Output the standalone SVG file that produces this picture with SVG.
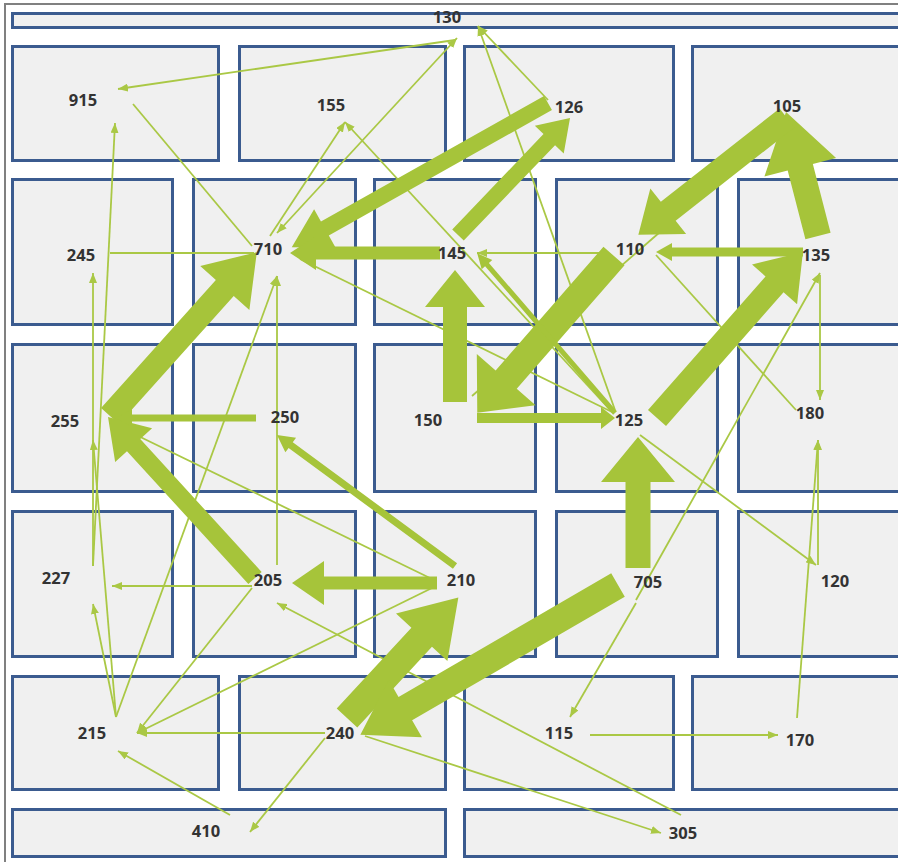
<svg xmlns="http://www.w3.org/2000/svg" width="898" height="862" viewBox="0 0 898 862">
<style>
.room{fill:#f0f0f0;stroke:#3b5b8f;stroke-width:3}
.thin{fill:none;stroke:#aac845;stroke-width:1.8}
.thick{fill:#a6c43a;stroke:none}
.lbl{font-family:"Open Sans","Liberation Sans",sans-serif;font-weight:bold;font-size:16.5px;fill:#333;text-anchor:middle}
</style>
<defs>
<marker id="ah" viewBox="0 0 10 8" markerWidth="10" markerHeight="8" refX="10" refY="4" orient="auto-start-reverse" markerUnits="userSpaceOnUse">
<path d="M0,0 L10,4 L0,8 Z" fill="#aac845"/>
</marker>
</defs>
<rect x="0" y="0" width="898" height="862" fill="#ffffff"/>
<rect x="5" y="4" width="910" height="880" fill="none" stroke="#808080" stroke-width="2"/>
<g id="rooms">
<rect class="room" x="12.5" y="13.5" width="900" height="14"/>
<rect class="room" x="12.5" y="46.5" width="206" height="114"/>
<rect class="room" x="239.5" y="46.5" width="206" height="114"/>
<rect class="room" x="464.5" y="46.5" width="209" height="114"/>
<rect class="room" x="692.5" y="46.5" width="220" height="114"/>
<rect class="room" x="12.5" y="179.5" width="160" height="145"/>
<rect class="room" x="193.5" y="179.5" width="162" height="145"/>
<rect class="room" x="374.5" y="179.5" width="161" height="145"/>
<rect class="room" x="556.5" y="179.5" width="161" height="145"/>
<rect class="room" x="738.5" y="179.5" width="180" height="145"/>
<rect class="room" x="12.5" y="344.5" width="160" height="147"/>
<rect class="room" x="193.5" y="344.5" width="162" height="147"/>
<rect class="room" x="374.5" y="344.5" width="161" height="147"/>
<rect class="room" x="556.5" y="344.5" width="161" height="147"/>
<rect class="room" x="738.5" y="344.5" width="180" height="147"/>
<rect class="room" x="12.5" y="511.5" width="160" height="145"/>
<rect class="room" x="193.5" y="511.5" width="162" height="145"/>
<rect class="room" x="374.5" y="511.5" width="161" height="145"/>
<rect class="room" x="556.5" y="511.5" width="161" height="145"/>
<rect class="room" x="738.5" y="511.5" width="180" height="145"/>
<rect class="room" x="12.5" y="676.5" width="206" height="113"/>
<rect class="room" x="239.5" y="676.5" width="206" height="113"/>
<rect class="room" x="464.5" y="676.5" width="209" height="113"/>
<rect class="room" x="692.5" y="676.5" width="220" height="113"/>
<rect class="room" x="12.5" y="809.5" width="433" height="47"/>
<rect class="room" x="464.5" y="809.5" width="450" height="47"/>
</g>
<g id="connectors">
<line class="thin" x1="455" y1="40" x2="118" y2="89" marker-end="url(#ah)"/>
<line class="thin" x1="277" y1="233" x2="457" y2="38" marker-start="url(#ah)" marker-end="url(#ah)"/>
<line class="thin" x1="548" y1="100" x2="478" y2="26" marker-end="url(#ah)"/>
<line class="thin" x1="615" y1="410" x2="478" y2="26" marker-end="url(#ah)"/>
<line class="thin" x1="133" y1="104" x2="252" y2="246"/>
<line class="thin" x1="110" y1="253" x2="254" y2="253"/>
<line class="thin" x1="93" y1="566" x2="93" y2="273" marker-end="url(#ah)"/>
<line class="thin" x1="93" y1="566" x2="115" y2="123" marker-end="url(#ah)"/>
<line class="thin" x1="116" y1="717" x2="93" y2="440" marker-end="url(#ah)"/>
<line class="thin" x1="116" y1="717" x2="93" y2="604" marker-end="url(#ah)"/>
<line class="thin" x1="116" y1="717" x2="277" y2="276" marker-end="url(#ah)"/>
<line class="thin" x1="277" y1="565" x2="277" y2="276" marker-end="url(#ah)"/>
<line class="thin" x1="252" y1="586" x2="112" y2="586" marker-end="url(#ah)"/>
<line class="thin" x1="252" y1="588" x2="137" y2="733" marker-end="url(#ah)"/>
<line class="thin" x1="432" y1="588" x2="137" y2="733" marker-end="url(#ah)"/>
<line class="thin" x1="432" y1="579" x2="128" y2="431"/>
<line class="thin" x1="325" y1="733" x2="137" y2="733" marker-end="url(#ah)"/>
<line class="thin" x1="325" y1="738" x2="250" y2="832" marker-end="url(#ah)"/>
<line class="thin" x1="230" y1="815" x2="118" y2="751" marker-end="url(#ah)"/>
<line class="thin" x1="365" y1="736" x2="661" y2="833" marker-end="url(#ah)"/>
<line class="thin" x1="681" y1="815" x2="277" y2="603" marker-end="url(#ah)"/>
<line class="thin" x1="270" y1="236" x2="345" y2="122" marker-end="url(#ah)"/>
<line class="thin" x1="612" y1="412" x2="345" y2="122" marker-end="url(#ah)"/>
<line class="thin" x1="300" y1="259" x2="612" y2="412"/>
<line class="thin" x1="607" y1="253" x2="477" y2="253" marker-end="url(#ah)"/>
<line class="thin" x1="472" y1="396" x2="660" y2="232"/>
<line class="thin" x1="796" y1="410" x2="656" y2="255"/>
<line class="thin" x1="820" y1="275" x2="820" y2="400" marker-end="url(#ah)"/>
<line class="thin" x1="636" y1="600" x2="820" y2="273" marker-end="url(#ah)"/>
<line class="thin" x1="636" y1="603" x2="570" y2="717" marker-end="url(#ah)"/>
<line class="thin" x1="590" y1="735" x2="778" y2="735" marker-end="url(#ah)"/>
<line class="thin" x1="797" y1="718" x2="818" y2="440" marker-end="url(#ah)"/>
<line class="thin" x1="818" y1="565" x2="818" y2="440" marker-end="url(#ah)"/>
<line class="thin" x1="640" y1="435" x2="816" y2="565" marker-end="url(#ah)"/>
<polygon class="thick" transform="translate(548,103) rotate(150.64)" points="0,-8 256,-8 256,-22 294,0 256,22 256,8 0,8"/>
<polygon class="thick" transform="translate(458,235) rotate(-46.25)" points="0,-8 132,-8 132,-20 162,0 132,20 132,8 0,8"/>
<polygon class="thick" transform="translate(440,253) rotate(180)" points="0,-6.5 124,-6.5 124,-17 150,0 124,17 124,6.5 0,6.5"/>
<polygon class="thick" transform="translate(110,416) rotate(-48.13)" points="0,-12 172,-12 172,-33 220,0 172,33 172,12 0,12"/>
<polygon class="thick" transform="translate(255,578) rotate(-132.4)" points="0,-9 180,-9 180,-25 218,0 180,25 180,9 0,9"/>
<polygon class="thick" transform="translate(256,418) rotate(180)" points="0,-3.5 124,-3.5 124,-9 140,0 124,9 124,3.5 0,3.5"/>
<polygon class="thick" transform="translate(455,566) rotate(-143.65)" points="0,-3.5 204,-3.5 204,-9 221,0 204,9 204,3.5 0,3.5"/>
<polygon class="thick" transform="translate(437,583) rotate(180)" points="0,-6.5 113,-6.5 113,-22 145,0 113,22 113,6.5 0,6.5"/>
<polygon class="thick" transform="translate(347,718) rotate(-47.23)" points="0,-14 110,-14 110,-35 164,0 110,35 110,14 0,14"/>
<polygon class="thick" transform="translate(618,585) rotate(149.83)" points="0,-13.5 246,-13.5 246,-33 298,0 246,33 246,13.5 0,13.5"/>
<polygon class="thick" transform="translate(638,568) rotate(-90)" points="0,-12.5 86,-12.5 86,-37 131,0 86,37 86,12.5 0,12.5"/>
<polygon class="thick" transform="translate(657,418) rotate(-48.67)" points="0,-12 178,-12 178,-30 221,0 178,30 178,12 0,12"/>
<polygon class="thick" transform="translate(803,252) rotate(180)" points="0,-4.5 131,-4.5 131,-9 147,0 131,9 131,4.5 0,4.5"/>
<polygon class="thick" transform="translate(818,236) rotate(-104.47)" points="0,-13 71,-13 71,-37 128,0 71,37 71,13 0,13"/>
<polygon class="thick" transform="translate(787,118) rotate(141.86)" points="0,-12 151,-12 151,-29 189,0 151,29 151,12 0,12"/>
<polygon class="thick" transform="translate(614,256) rotate(131.1)" points="0,-14 164,-14 164,-39 208,0 164,39 164,14 0,14"/>
<polygon class="thick" transform="translate(455,402) rotate(-90)" points="0,-12 95,-12 95,-30 132,0 95,30 95,12 0,12"/>
<polygon class="thick" transform="translate(477,418)" points="0,-5 124,-5 124,-11 138,0 124,11 124,5 0,5"/>
<polygon class="thick" transform="translate(615,413) rotate(-130.78)" points="0,-2.5 196,-2.5 196,-7 211,0 196,7 196,2.5 0,2.5"/>
</g>
<g id="n130"><text class="lbl" x="447" y="23">130</text></g>
<g id="n915"><text class="lbl" x="83" y="106">915</text></g>
<g id="n155"><text class="lbl" x="331" y="111">155</text></g>
<g id="n126"><text class="lbl" x="569" y="113">126</text></g>
<g id="n105"><text class="lbl" x="787" y="112">105</text></g>
<g id="n245"><text class="lbl" x="81" y="261">245</text></g>
<g id="n710"><text class="lbl" x="268" y="255">710</text></g>
<g id="n145"><text class="lbl" x="452" y="259">145</text></g>
<g id="n110"><text class="lbl" x="630" y="255">110</text></g>
<g id="n135"><text class="lbl" x="816" y="261">135</text></g>
<g id="n255"><text class="lbl" x="65" y="427">255</text></g>
<g id="n250"><text class="lbl" x="285" y="423">250</text></g>
<g id="n150"><text class="lbl" x="428" y="426">150</text></g>
<g id="n125"><text class="lbl" x="629" y="426">125</text></g>
<g id="n180"><text class="lbl" x="810" y="419">180</text></g>
<g id="n227"><text class="lbl" x="56" y="584">227</text></g>
<g id="n205"><text class="lbl" x="268" y="586">205</text></g>
<g id="n210"><text class="lbl" x="461" y="586">210</text></g>
<g id="n705"><text class="lbl" x="648" y="588">705</text></g>
<g id="n120"><text class="lbl" x="835" y="587">120</text></g>
<g id="n215"><text class="lbl" x="92" y="739">215</text></g>
<g id="n240"><text class="lbl" x="340" y="739">240</text></g>
<g id="n115"><text class="lbl" x="559" y="739">115</text></g>
<g id="n170"><text class="lbl" x="800" y="746">170</text></g>
<g id="n410"><text class="lbl" x="206" y="837">410</text></g>
<g id="n305"><text class="lbl" x="683" y="839">305</text></g>
</svg>
